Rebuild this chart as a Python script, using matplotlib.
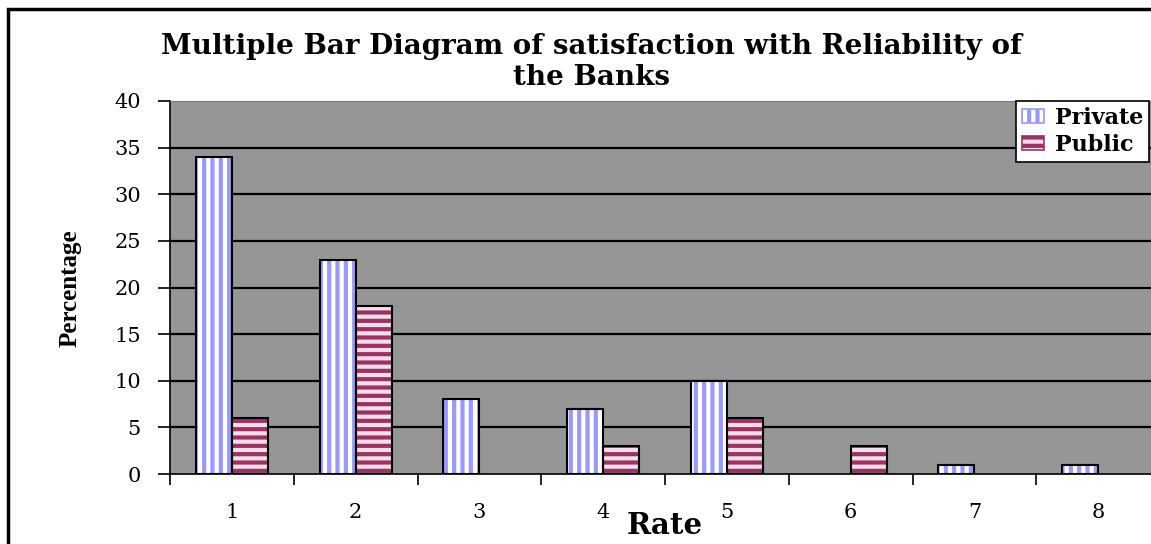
import numpy as np
import matplotlib.pyplot as plt
from matplotlib.patches import Rectangle, Patch

rates = ['1', '2', '3', '4', '5', '6', '7', '8']
private = [34, 23, 8, 7, 10, 0, 1, 1]
public = [6, 18, 0, 3, 6, 3, 0, 0]

plt.rcParams['font.family'] = 'DejaVu Serif'
plt.rcParams['hatch.linewidth'] = 3.0

fig = plt.figure(figsize=(11.51, 5.44), dpi=100)
ax = fig.add_axes([170 / 1151, 1 - 474 / 544, 990 / 1151, 373 / 544])
ax.set_facecolor('#969696')

# chart border (right and bottom run off the page)
fig.patches.append(Rectangle((8 / 1151, -0.2), 1.2, 1.2 - 9 / 544,
                             transform=fig.transFigure, fill=False,
                             edgecolor='black', linewidth=2.5, zorder=0))

x = np.arange(len(rates))
w = 0.29

for yv in range(5, 40, 5):
    ax.axhline(yv, color='black', linewidth=1.6, zorder=1)

# striped fills, then outlines on top (skip the empty bars)
ax.bar(x - w / 2, private, w, color='white', hatch='||', edgecolor='#9999ff',
       linewidth=0, zorder=2)
ax.bar(x + w / 2, public, w, color='#f4dde8', hatch='--', edgecolor='#993366',
       linewidth=0, zorder=2)
for vals, off in ((private, -w / 2), (public, w / 2)):
    ec = ['black' if v > 0 else 'none' for v in vals]
    ax.bar(x + off, vals, w, fill=False, edgecolor=ec, linewidth=1.5, zorder=3)

ax.set_xlim(-0.5, 7.5)
ax.set_ylim(0, 40)
ax.set_yticks(range(0, 45, 5))
# labels at category centres, tick marks between categories
ax.set_xticks(x, rates)
ax.set_xticks(np.arange(-0.5, 8, 1), minor=True)
ax.tick_params(axis='x', which='minor', length=8, width=1.2, direction='out')
ax.tick_params(axis='x', which='major', length=0, pad=21, labelsize=15)
ax.tick_params(axis='y', length=9, width=1.2, labelsize=15, pad=12)
ax.spines['right'].set_visible(False)
ax.spines['top'].set_color('#7a7a7a')
for s in ('left', 'bottom'):
    ax.spines[s].set_linewidth(1.2)

fig.text(70 / 1151, 1 - 288 / 544, 'Percentage', rotation=90, ha='center',
         va='center', fontsize=18, fontweight='bold', family='Liberation Serif')
fig.text(665 / 1151, 1 - 525 / 544, 'Rate', ha='center', va='center',
         fontsize=21, fontweight='bold')
fig.text(591 / 1151, 1 - 47 / 544,
         'Multiple Bar Diagram of satisfaction with Reliability of',
         ha='center', va='center', fontsize=20, fontweight='bold')
fig.text(591 / 1151, 1 - 78 / 544, 'the Banks',
         ha='center', va='center', fontsize=20, fontweight='bold')

handles = [Patch(facecolor='white', edgecolor='#9999ff', hatch='||', label='Private'),
           Patch(facecolor='#f4dde8', edgecolor='#993366', hatch='--', label='Public')]
leg = fig.legend(handles=handles, loc='upper left',
                 bbox_to_anchor=(1016 / 1151, 1 - 101 / 544),
                 prop={'weight': 'bold', 'size': 16}, frameon=True,
                 fancybox=False, edgecolor='black', framealpha=1,
                 handlelength=1.0, handleheight=0.6, handletextpad=0.5,
                 borderpad=0.25, labelspacing=0.25, borderaxespad=0)
leg.get_frame().set_linewidth(1.2)
for h in leg.legend_handles:
    h.set_linewidth(1.2)

fig.savefig('out.png', dpi=100)
